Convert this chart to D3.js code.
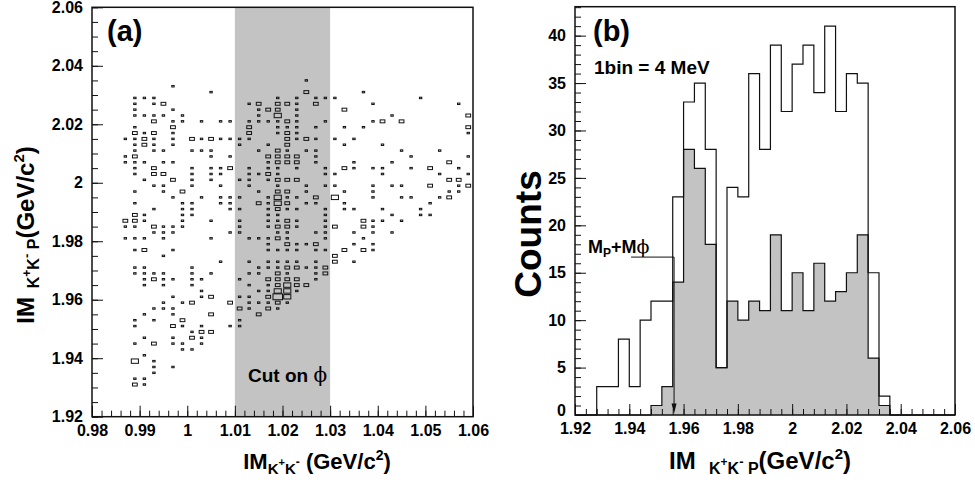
<!DOCTYPE html>
<html>
<head>
<meta charset="utf-8">
<script src="https://cdn.jsdelivr.net/npm/d3@7"></script>
<style>
  body { margin: 0; background: #fff; }
  text { font-family: "Liberation Sans", Arial, sans-serif; font-weight: bold; fill: #000; white-space: pre; }
</style>
</head>
<body>
<script>
// ---------- panel (a): 2D histogram, 0.002 GeV bins, rows from 2.06 (top) down to 1.92
const xDomainA = [0.98, 1.06];
const yDomainA = [1.92, 2.06];
const binA = 0.002;
const maxCellCount = 4;
const cutBand = [1.01, 1.03];
const xTicksA = [0.98, 0.99, 1, 1.01, 1.02, 1.03, 1.04, 1.05, 1.06];
const yTicksA = [1.92, 1.94, 1.96, 1.98, 2, 2.02, 2.04, 2.06];
// each row: 40 x-bins, written in 4 groups of 10 (spaces are ignored)
const E = ".......... .......... .......... ..........";
const boxRows = [
  E, E, E, E, E, E, E, E, E, E, E, E,
  ".......... .......... ..1....... ..........",
  "........1. .......... .......... ..........",
  ".......... ..1....... ..2.....1. ..........",
  "....111... .........1 .1.111.... ....1.....",
  "....1.12.. ......12.2 21.2.....1 ........1.",
  "....1...1. .......122 .1....2... ..........",
  "....1111.1 .......1.3 .1........ .1.......2",
  "......2.11 .1.11.1111 21..1....1 2.2.......",
  "....1...2. ......2..1 11.1..1.1. .........2",
  "....212.1. ......2..1 21........ .........1",
  "...1121.1. 2121111... 2121.1.1.. ..........",
  "....121.1. .....1..1. 2.....1... 1.........",
  "....1.11.. 111....1.2 1.11...... ..1...1...",
  "...12..... ..1.1...22 22.1...... ...1.....1",
  "...111.11. ........12 22.1...1.. .1.....2..",
  "....1.2... 1.112.1.11 .1..1.21.1 1..1.2..1.",
  "....1.22.. 1.11..1121 ....11.... 1.....1..1",
  ".....1..2. 1.1..11.12 22........ .......22.",
  "......11.. 1..1..1..1 ..1.11...1 .11..2..12",
  "....1..1.2 .......1.2 2.1...1..1 .......11.",
  "........1. .1.111..13 11.2.3...1 ..11..12..",
  "....1....1 1..11..213 2.11..1... .....1....",
  "......1..1 1...11..12 11..1.11.. 1...1.....",
  "....21...1 1.......11 ....1..... .1..11....",
  "...221...1 ..1..1..11 21..1...21 1.1.......",
  "...11.2111 .....1..12 21..12..21 ..........",
  "......111. ....11...1 1..11..1.1 .1........",
  "...111.1.. ..1...1112 1...1...1. ..........",
  ".......... ........1. 2112...1.1 ..........",
  "....12..1. ........11 11.11.2.21 ..........",
  ".......1.. .......... .....2.... ..........",
  ".......... ...1..1.11 11.1.2.1.. ..........",
  "....11.... 1......111 22112..... ..........",
  "....1111.. 1.1...11.2 1..12..... ..........",
  ".....1211. 11...1..22 22.1...... ..........",
  ".....1.1.. 1.....1.12 322....... ..........",
  ".......... .1.....113 31........ ..........",
  "........1. .12..11.24 3......... ..........",
  ".......1.1 2...2.1112 1......... ..........",
  "......111. .....21.21 .......... ..........",
  ".....1..1. ..2....2.. .......... ..........",
  "....1.1..2 .....1.... .......... ..........",
  "....1...21 .1..11.... .......... ..........",
  ".......... 122....... .......... ..........",
  ".....1..1. 21........ .......... ..........",
  "....1.2.11 .1........ .......... ..........",
  ".........1 1......... .......... ..........",
  ".....1.... .......... .......... ..........",
  "....3.1... .......... .......... ..........",
  "......1.1. .......... .......... ..........",
  "......1... .......... .......... ..........",
  "....11.... .......... .......... ..........",
  "....21.... .......... .......... ..........",
  E, E, E, E, E
];

// ---------- panel (b): 4 MeV bins starting at 1.92
const binStartB = 1.92;
const binWidthB = 0.004;
const allCounts = [0, 0, 3, 3, 8, 3, 10, 12, 12, 23, 33, 35, 28, 5, 24, 23, 36, 28,
                   39, 32, 37, 39, 34, 41, 32, 36, 35, 15, 2, 0, 0, 0, 0, 0, 0];
const cutCounts = [0, 0, 0, 0, 0, 0, 0, 1, 3, 14, 28, 26, 18, 5, 12, 10, 12, 11,
                   19, 11, 15, 11, 16, 12, 13, 15, 19, 6, 1, 0, 0, 0, 0, 0, 0];
const xTicksB = [1.92, 1.94, 1.96, 1.98, 2, 2.02, 2.04, 2.06];
const yTicksB = [0, 5, 10, 15, 20, 25, 30, 35, 40];
const yMaxB = 43.05;
const threshold = 1.9565; // M_p + M_phi

const grayFill = "#c3c3c3";
const fmt = d => String(+d.toFixed(3));
const serif = "'DejaVu Serif','Liberation Serif',serif";

const svg = d3.select("body").append("svg")
  .attr("width", 975).attr("height", 482);

function richText(parent, x, y, segs, anchor, rotate) {
  const t = parent.append("text").attr("x", x).attr("y", y)
    .attr("text-anchor", anchor || "start");
  if (rotate) t.attr("transform", `rotate(${rotate},${x},${y})`);
  let prev = 0;
  segs.forEach(([s, size, off, isSerif]) => {
    const ts = t.append("tspan").attr("dy", off - prev).attr("font-size", size).text(s);
    if (isSerif) ts.attr("font-family", serif).attr("font-weight", "normal")
      .style("fill", "#000");
    prev = off;
  });
  return t;
}

function drawAxes(g, x, y, xt, xMinor, yt, yMinor) {
  const [x0, x1] = x.range(), [y0, y1] = y.range();
  g.append("g").attr("transform", `translate(0,${y0})`)
    .call(d3.axisBottom(x).tickValues(xMinor).tickSize(-6).tickFormat(""));
  g.append("g").attr("transform", `translate(0,${y0})`)
    .call(d3.axisBottom(x).tickValues(xt).tickSize(-11).tickPadding(8).tickFormat(fmt));
  g.append("g").attr("transform", `translate(${x0},0)`)
    .call(d3.axisLeft(y).tickValues(yMinor).tickSize(-6).tickFormat(""));
  g.append("g").attr("transform", `translate(${x0},0)`)
    .call(d3.axisLeft(y).tickValues(yt).tickSize(-11).tickPadding(9).tickFormat(fmt));
  g.selectAll(".domain").remove();
  g.selectAll(".tick line").attr("stroke", "#111").attr("stroke-width", 1);
  g.selectAll(".tick text").attr("font-size", 16)
    .attr("font-family", "'Liberation Sans', Arial, sans-serif").attr("font-weight", "bold");
  g.append("rect").attr("x", x0).attr("y", y1).attr("width", x1 - x0).attr("height", y0 - y1)
    .attr("fill", "none").attr("stroke", "#111").attr("stroke-width", 1.5);
}

// ================= panel (a)
const xA = d3.scaleLinear().domain(xDomainA).range([92, 473]);
const yA = d3.scaleLinear().domain(yDomainA).range([416.7, 7.3]);
const gA = svg.append("g");

gA.append("rect")
  .attr("x", xA(cutBand[0])).attr("y", yA(yDomainA[1]))
  .attr("width", xA(cutBand[1]) - xA(cutBand[0]))
  .attr("height", yA(yDomainA[0]) - yA(yDomainA[1]))
  .attr("fill", grayFill);

const cells = [];
boxRows.forEach((row, t) => {
  row.replace(/ /g, "").split("").forEach((c, i) => {
    if (c !== ".") cells.push({
      x: xDomainA[0] + binA * (i + 0.5),
      y: yDomainA[1] - binA * (t + 0.5),
      n: +c
    });
  });
});
const cellW = xA(binA) - xA(0), cellH = yA(0) - yA(binA);
gA.selectAll("rect.cell").data(cells).enter().append("rect")
  .attr("class", "cell")
  .attr("x", d => xA(d.x) - cellW * d.n / maxCellCount / 2)
  .attr("y", d => yA(d.y) - cellH * d.n / maxCellCount / 2)
  .attr("width", d => cellW * d.n / maxCellCount)
  .attr("height", d => cellH * d.n / maxCellCount)
  .attr("fill", "none").attr("stroke", "#111").attr("stroke-width", 1);

drawAxes(gA, xA, yA, xTicksA, d3.range(0, 41).map(i => 0.98 + i * 0.002),
  yTicksA, d3.range(0, 29).map(i => 1.92 + i * 0.005));

gA.append("text").attr("x", 107).attr("y", 41).attr("font-size", 29).text("(a)");
richText(gA, 248, 382, [["Cut on ", 19, 0], ["\u03d5", 20, 0, true]]);
richText(gA, 317, 469, [["IM", 22, 0], ["K", 15, 5], ["+", 11, -3], ["K", 15, 5], ["-", 12, -3],
  [" (GeV/c", 22, 0], ["2", 14, -9], [")", 22, 0]], "middle");
richText(gA, 34, 235, [["IM", 24, 0], ["  K", 16, 5], ["+", 12, -3], ["K", 16, 5], ["-", 13, -3],
  [" P", 16, 5], ["(GeV/c", 24, 0], ["2", 15, -10], [")", 24, 0]], "middle", -90);

// ================= panel (b)
const xB = d3.scaleLinear().domain([1.92, 2.06]).range([575, 955]);
const yB = d3.scaleLinear().domain([0, yMaxB]).range([415, 6.7]);
const gB = svg.append("g");

function stepPoints(counts) {
  const pts = counts.map((c, k) => ({ x: binStartB + k * binWidthB, c }));
  pts.push({ x: binStartB + counts.length * binWidthB, c: counts[counts.length - 1] });
  return pts;
}
const area = d3.area().curve(d3.curveStepAfter)
  .x(d => xB(d.x)).y0(yB(0)).y1(d => yB(d.c));

gB.append("path").attr("d", area(stepPoints(cutCounts))).attr("fill", grayFill);

// outline with vertical bin edges down to the axis, like ROOT draws it
function outline(counts) {
  const pts = [];
  counts.forEach((c, k) => {
    const prev = k ? counts[k - 1] : 0;
    pts.push([xB(binStartB + k * binWidthB), yB(prev)]);
    pts.push([xB(binStartB + k * binWidthB), yB(c)]);
  });
  const xe = xB(binStartB + counts.length * binWidthB);
  pts.push([xe, yB(counts[counts.length - 1])]);
  pts.push([xe, yB(0)]);
  return d3.line()(pts);
}
gB.append("path").attr("d", outline(cutCounts)).attr("fill", "none")
  .attr("stroke", "#111").attr("stroke-width", 1.2);
gB.append("path").attr("d", outline(allCounts)).attr("fill", "none")
  .attr("stroke", "#111").attr("stroke-width", 1.2);

drawAxes(gB, xB, yB, xTicksB, d3.range(0, 36).map(i => 1.92 + i * 0.004),
  yTicksB, d3.range(0, 44));
gB.selectAll(".tick text").filter(d => d === 0).attr("dy", "0.05em");

// threshold marker
const xt = xB(threshold);
gB.append("path")
  .attr("d", `M${xt - 43},${yB(16.65)}H${xt}V${yB(0.5)}`)
  .attr("fill", "none").attr("stroke", "#111").attr("stroke-width", 1);
gB.append("path")
  .attr("d", `M${xt - 2.5},${yB(1.2)}L${xt + 2.5},${yB(1.2)}L${xt},${yB(0.15)}Z`)
  .attr("fill", "#111");
richText(gB, 588, 253, [["M", 18, 0], ["P", 12, 4], ["+M", 18, 0], ["\u03d5", 19, 0, true]]);

gB.append("text").attr("x", 593).attr("y", 41).attr("font-size", 29).text("(b)");
gB.append("text").attr("x", 594).attr("y", 74).attr("font-size", 19).text("1bin = 4 MeV");
gB.append("text").attr("x", 541).attr("y", 234).attr("font-size", 37)
  .attr("text-anchor", "middle").attr("transform", "rotate(-90,541,234)").text("Counts");
richText(gB, 760, 469, [["IM", 24, 0], ["   K", 16, 5], ["+", 12, -3], ["K", 16, 5], ["-", 13, -3],
  [" P", 16, 5], ["(GeV/c", 24, 0], ["2", 15, -10], [")", 24, 0]], "middle");
</script>
</body>
</html>
